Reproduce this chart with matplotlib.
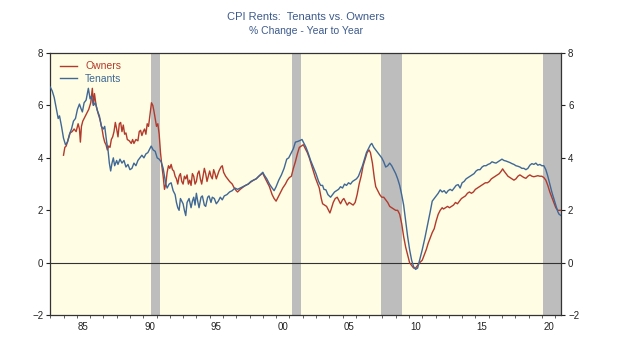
import matplotlib
matplotlib.use("Agg")
import matplotlib.pyplot as plt
from matplotlib.ticker import FixedLocator, FixedFormatter, MultipleLocator

plt.rcParams['font.family'] = ['Liberation Sans', 'DejaVu Sans']

title = "CPI Rents:  Tenants vs. Owners"
subtitle = "% Change - Year to Year"

tenants_x = [1983.0, 1983.15, 1983.3, 1983.45, 1983.6, 1983.7, 1983.85, 1984.0, 1984.15, 1984.3, 1984.45, 1984.6, 1984.75, 1984.9,
             1985.05, 1985.2, 1985.3, 1985.42, 1985.55, 1985.7, 1985.87, 1986.0, 1986.1, 1986.25, 1986.4, 1986.55, 1986.7, 1986.85,
             1987.0, 1987.1, 1987.25, 1987.35, 1987.45, 1987.55, 1987.65, 1987.75, 1987.85, 1988.0, 1988.1, 1988.25, 1988.4, 1988.55,
             1988.7, 1988.85, 1989.0, 1989.15, 1989.3, 1989.45, 1989.6, 1989.75, 1989.9, 1990.05, 1990.2, 1990.35, 1990.5, 1990.6,
             1990.75, 1990.9, 1991.05, 1991.2, 1991.35, 1991.5, 1991.6, 1991.7, 1991.8, 1991.95, 1992.1, 1992.25, 1992.4, 1992.5,
             1992.6, 1992.7, 1992.8, 1992.9, 1993.0, 1993.1, 1993.2, 1993.3, 1993.45, 1993.6, 1993.7, 1993.8, 1993.9, 1994.0,
             1994.1, 1994.2, 1994.35, 1994.45, 1994.6, 1994.7, 1994.85, 1994.95, 1995.1, 1995.2, 1995.35, 1995.5, 1995.65, 1995.8,
             1995.95, 1996.1, 1996.3, 1996.5, 1996.7, 1996.9, 1997.1, 1997.3, 1997.5, 1997.7, 1997.9, 1998.1, 1998.3, 1998.5,
             1998.7, 1998.9, 1999.0, 1999.1, 1999.3, 1999.5, 1999.7, 1999.85, 2000.0, 2000.2, 2000.4, 2000.6, 2000.8, 2000.95,
             2001.1, 2001.3, 2001.45, 2001.6, 2001.75, 2001.95, 2002.1, 2002.25, 2002.4, 2002.6, 2002.8, 2003.0, 2003.2, 2003.35,
             2003.5, 2003.6, 2003.75, 2003.9, 2004.1, 2004.25, 2004.4, 2004.55, 2004.7, 2004.85, 2005.0, 2005.15, 2005.3, 2005.45,
             2005.6, 2005.75, 2005.9, 2006.05, 2006.2, 2006.35, 2006.5, 2006.65, 2006.8, 2006.95, 2007.1, 2007.2, 2007.35, 2007.5,
             2007.65, 2007.8, 2007.95, 2008.1, 2008.25, 2008.4, 2008.55, 2008.7, 2008.85, 2009.0, 2009.15, 2009.3, 2009.45, 2009.6,
             2009.75, 2009.9, 2010.05, 2010.2, 2010.35, 2010.5, 2010.65, 2010.8, 2011.0, 2011.2, 2011.4, 2011.6, 2011.75, 2011.9,
             2012.05, 2012.2, 2012.35, 2012.5, 2012.65, 2012.8, 2012.95, 2013.1, 2013.25, 2013.4, 2013.55, 2013.7, 2013.85, 2014.0,
             2014.15, 2014.3, 2014.45, 2014.6, 2014.75, 2014.9, 2015.05, 2015.2, 2015.35, 2015.5, 2015.65, 2015.8, 2015.95, 2016.1,
             2016.25, 2016.4, 2016.55, 2016.7, 2016.85, 2017.0, 2017.15, 2017.3, 2017.45, 2017.6, 2017.75, 2017.9, 2018.05, 2018.2,
             2018.35, 2018.5, 2018.65, 2018.8, 2018.95, 2019.1, 2019.25, 2019.4, 2019.55, 2019.7, 2019.85, 2020.0, 2020.15, 2020.3,
             2020.45, 2020.6, 2020.75, 2020.9, 2021.05, 2021.2, 2021.3, 2021.45]
tenants_y = [6.7, 6.55, 6.3, 5.9, 5.5, 5.6, 5.2, 4.75, 4.5, 4.6, 4.9, 5.1, 5.4, 5.5,
             5.85, 6.05, 5.9, 5.75, 6.1, 6.2, 6.65, 6.25, 6.35, 6.0, 6.1, 5.8, 5.6, 5.2,
             5.1, 5.2, 4.6, 4.3, 3.8, 3.5, 3.8, 4.0, 3.7, 3.9, 3.75, 3.95, 3.8, 3.9,
             3.65, 3.75, 3.55, 3.6, 3.8, 3.7, 3.9, 4.0, 4.1, 4.0, 4.15, 4.2, 4.35, 4.45,
             4.3, 4.25, 4.0, 3.95, 3.85, 3.6, 3.3, 3.0, 2.85, 3.0, 3.05, 2.75, 2.6, 2.3,
             2.1, 2.0, 2.45, 2.35, 2.25, 2.0, 1.8, 2.3, 2.45, 2.1, 2.35, 2.5, 2.2, 2.65,
             2.35, 2.1, 2.5, 2.55, 2.2, 2.15, 2.5, 2.55, 2.3, 2.5, 2.45, 2.25, 2.35, 2.5,
             2.4, 2.55, 2.6, 2.7, 2.75, 2.85, 2.8, 2.85, 2.9, 2.95, 3.0, 3.1, 3.15, 3.2,
             3.3, 3.4, 3.45, 3.35, 3.2, 3.0, 2.85, 2.75, 2.9, 3.15, 3.35, 3.6, 3.95, 4.0,
             4.15, 4.35, 4.6, 4.62, 4.65, 4.7, 4.55, 4.4, 4.2, 3.9, 3.65, 3.4, 3.1, 2.95,
             2.95, 2.8, 2.78, 2.6, 2.5, 2.6, 2.7, 2.75, 2.8, 2.9, 2.85, 3.0, 2.95, 3.05,
             3.0, 3.1, 3.15, 3.2, 3.3, 3.5, 3.7, 3.95, 4.2, 4.35, 4.5, 4.55, 4.4, 4.3,
             4.2, 4.1, 4.0, 3.85, 3.65, 3.7, 3.8, 3.7, 3.55, 3.4, 3.2, 2.95, 2.6, 2.2,
             1.6, 1.0, 0.5, 0.1, -0.15, -0.25, -0.2, 0.1, 0.5, 0.95, 1.45, 1.95, 2.35, 2.45,
             2.55, 2.65, 2.78, 2.7, 2.75, 2.65, 2.75, 2.8, 2.75, 2.85, 2.95, 2.98, 2.85, 3.05,
             3.1, 3.2, 3.25, 3.3, 3.35, 3.4, 3.5, 3.55, 3.55, 3.65, 3.7, 3.7, 3.75, 3.78,
             3.85, 3.82, 3.8, 3.85, 3.9, 3.95, 3.9, 3.88, 3.85, 3.82, 3.78, 3.75, 3.7, 3.68,
             3.65, 3.6, 3.6, 3.55, 3.6, 3.72, 3.78, 3.75, 3.8, 3.72, 3.75, 3.7, 3.7, 3.55,
             3.3, 3.0, 2.7, 2.45, 2.2, 1.95, 1.85, 1.8]

owners_x = [1984.0, 1984.1, 1984.2, 1984.35, 1984.5, 1984.65, 1984.8, 1984.95, 1985.1, 1985.2, 1985.27, 1985.35, 1985.45, 1985.6,
            1985.75, 1985.9, 1986.05, 1986.17, 1986.25, 1986.33, 1986.45, 1986.6, 1986.75, 1986.9, 1987.0, 1987.1, 1987.2, 1987.3,
            1987.4, 1987.5, 1987.6, 1987.7, 1987.8, 1987.9, 1988.0, 1988.1, 1988.2, 1988.3, 1988.4, 1988.5, 1988.6, 1988.7,
            1988.8, 1988.95, 1989.1, 1989.2, 1989.3, 1989.45, 1989.6, 1989.7, 1989.8, 1989.9, 1990.0, 1990.1, 1990.2, 1990.3,
            1990.4, 1990.5, 1990.62, 1990.72, 1990.8, 1990.9, 1991.0, 1991.1, 1991.2, 1991.3, 1991.4, 1991.5, 1991.6, 1991.7,
            1991.8, 1991.9, 1992.0, 1992.1, 1992.2, 1992.3, 1992.4, 1992.5, 1992.6, 1992.7, 1992.8, 1992.9, 1993.0, 1993.1,
            1993.2, 1993.3, 1993.4, 1993.5, 1993.6, 1993.7, 1993.8, 1993.9, 1994.0, 1994.1, 1994.2, 1994.3, 1994.4, 1994.5,
            1994.6, 1994.7, 1994.8, 1994.9, 1995.0, 1995.1, 1995.2, 1995.3, 1995.4, 1995.5, 1995.6, 1995.7, 1995.85, 1995.95,
            1996.05, 1996.2, 1996.35, 1996.5, 1996.7, 1996.85, 1997.0, 1997.1, 1997.3, 1997.5, 1997.7, 1997.9, 1998.1, 1998.3,
            1998.5, 1998.7, 1998.9, 1999.0, 1999.1, 1999.3, 1999.5, 1999.7, 1999.85, 2000.0, 2000.15, 2000.3, 2000.5, 2000.7,
            2000.85, 2001.0, 2001.15, 2001.3, 2001.45, 2001.6, 2001.75, 2001.9, 2002.05, 2002.2, 2002.35, 2002.5, 2002.65, 2002.8,
            2002.95, 2003.1, 2003.25, 2003.4, 2003.5, 2003.65, 2003.8, 2003.95, 2004.05, 2004.15, 2004.3, 2004.45, 2004.6, 2004.75,
            2004.85, 2005.0, 2005.1, 2005.25, 2005.35, 2005.5, 2005.65, 2005.8, 2005.95, 2006.1, 2006.25, 2006.4, 2006.55, 2006.7,
            2006.85, 2007.0, 2007.1, 2007.25, 2007.4, 2007.5, 2007.65, 2007.8, 2007.95, 2008.1, 2008.25, 2008.4, 2008.55, 2008.7,
            2008.85, 2009.0, 2009.15, 2009.3, 2009.45, 2009.6, 2009.75, 2009.9, 2010.05, 2010.2, 2010.35, 2010.5, 2010.65, 2010.8,
            2011.0, 2011.15, 2011.3, 2011.45, 2011.6, 2011.75, 2011.9, 2012.05, 2012.2, 2012.35, 2012.5, 2012.6, 2012.75, 2012.9,
            2013.05, 2013.2, 2013.35, 2013.5, 2013.65, 2013.8, 2013.95, 2014.1, 2014.25, 2014.4, 2014.55, 2014.7, 2014.85, 2015.0,
            2015.15, 2015.3, 2015.45, 2015.6, 2015.75, 2015.9, 2016.05, 2016.2, 2016.35, 2016.5, 2016.65, 2016.8, 2016.95, 2017.05,
            2017.15, 2017.3, 2017.45, 2017.6, 2017.75, 2017.9, 2018.05, 2018.2, 2018.35, 2018.5, 2018.65, 2018.8, 2018.95, 2019.1,
            2019.25, 2019.4, 2019.55, 2019.7, 2019.85, 2020.0, 2020.15, 2020.3, 2020.45, 2020.6, 2020.75, 2020.9, 2021.05, 2021.2,
            2021.35, 2021.45]
owners_y = [4.1, 4.4, 4.45, 4.7, 4.95, 5.0, 5.1, 5.0, 5.3, 5.1, 4.6, 5.2, 5.4, 5.55,
            5.7, 5.85, 6.1, 6.65, 6.0, 6.45, 6.0, 5.7, 5.45, 5.1, 4.8, 4.6, 4.5, 4.3,
            4.45, 4.4, 4.7, 4.8, 5.0, 5.35, 5.1, 4.8, 5.3, 5.35, 5.0, 5.25, 4.9, 4.95,
            4.7, 4.65, 4.55, 4.7, 4.55, 4.7, 4.65, 5.0, 5.05, 4.85, 5.0, 5.1, 4.9, 5.3,
            5.2, 5.6, 6.1, 6.0, 5.8, 5.5, 5.2, 5.3, 4.9, 4.2, 3.7, 3.3, 2.8, 3.0,
            3.45, 3.7, 3.6, 3.75, 3.55, 3.5, 3.3, 3.2, 3.0, 3.3, 3.4, 3.1, 3.0, 3.3,
            3.2, 3.35, 3.0, 3.15, 2.95, 3.4, 3.3, 3.0, 3.1, 3.4, 3.5, 3.2, 3.0, 3.3,
            3.6, 3.4, 3.1, 3.3, 3.5, 3.3, 3.2, 3.55, 3.4, 3.2, 3.35, 3.5, 3.65, 3.7,
            3.45, 3.3, 3.2, 3.1, 3.0, 2.85, 2.75, 2.7, 2.8, 2.88, 2.95, 3.0, 3.08, 3.15,
            3.2, 3.3, 3.38, 3.42, 3.3, 3.1, 2.9, 2.6, 2.45, 2.35, 2.5, 2.65, 2.85, 3.0,
            3.15, 3.25, 3.3, 3.6, 3.85, 4.15, 4.4, 4.45, 4.5, 4.35, 4.2, 4.0, 3.75, 3.5,
            3.25, 3.05, 2.85, 2.45, 2.25, 2.2, 2.15, 2.0, 1.9, 2.05, 2.3, 2.45, 2.5, 2.35,
            2.25, 2.4, 2.45, 2.3, 2.2, 2.3, 2.25, 2.2, 2.3, 2.6, 3.0, 3.3, 3.7, 3.95,
            4.2, 4.3, 4.2, 3.8, 3.2, 2.9, 2.75, 2.6, 2.5, 2.5, 2.4, 2.3, 2.15, 2.1,
            2.05, 2.0, 2.0, 1.85, 1.5, 1.0, 0.6, 0.3, 0.0, -0.1, -0.2, -0.2, -0.1, 0.0,
            0.1, 0.3, 0.5, 0.75, 0.95, 1.15, 1.3, 1.6, 1.85, 2.0, 2.1, 2.05, 2.1, 2.15,
            2.1, 2.15, 2.2, 2.3, 2.25, 2.35, 2.45, 2.5, 2.55, 2.65, 2.7, 2.65, 2.7, 2.8,
            2.85, 2.9, 2.95, 3.0, 3.05, 3.05, 3.1, 3.2, 3.25, 3.3, 3.35, 3.4, 3.5, 3.58,
            3.5, 3.4, 3.3, 3.25, 3.2, 3.15, 3.2, 3.3, 3.35, 3.3, 3.25, 3.22, 3.3, 3.35,
            3.3, 3.28, 3.3, 3.32, 3.3, 3.3, 3.25, 3.15, 2.95, 2.7, 2.5, 2.3, 2.1, 2.0,
            2.0, 2.0]

recession_starts = [1990.58, 2001.17, 2007.92, 2020.1]
recession_ends = [1991.25, 2001.84, 2009.5, 2021.5]

year_labels = ["85", "90", "95", "00", "05", "10", "15", "20"]
label_years = [1985, 1990, 1995, 2000, 2005, 2010, 2015, 2020]
y_ticks = [-2, 0, 2, 4, 6, 8]

owners_color = "#b23a2c"
tenants_color = "#3f6896"

fig = plt.figure(figsize=(6.2, 3.48), dpi=100)
ax = fig.add_axes([0.081, 0.094, 0.824, 0.754])
ax.set_facecolor("#fffde3")

for s, e in zip(recession_starts, recession_ends):
    ax.axvspan(s, e, color="#bdbdbd", lw=0, zorder=1)

ax.axhline(0, color="#333333", lw=0.8, zorder=2)
ax.plot(owners_x, owners_y, color=owners_color, lw=1.0, zorder=3, label="Owners")
ax.plot(tenants_x, tenants_y, color=tenants_color, lw=1.0, zorder=3, label="Tenants")

ax.set_xlim(1983.0, 2021.45)
ax.set_ylim(-2, 8)

ax.yaxis.set_major_locator(FixedLocator(y_ticks))
ax.tick_params(axis='y', which='major', direction='out', length=3, width=0.8,
               labelsize=7, left=True, right=True, labelleft=True, labelright=True, pad=2, colors="#222222")

ax.xaxis.set_major_locator(FixedLocator([y + 0.5 for y in label_years]))
ax.xaxis.set_major_formatter(FixedFormatter(year_labels))
ax.xaxis.set_minor_locator(MultipleLocator(1))
ax.tick_params(axis='x', which='major', length=0, labelsize=7, pad=5, colors="#222222")
ax.tick_params(axis='x', which='minor', direction='out', length=2.5, width=0.6, color="#444444")

for sp in ax.spines.values():
    sp.set_linewidth(0.9)
    sp.set_color("#333333")

leg = ax.legend(loc="upper left", frameon=False, fontsize=7.5, handlelength=1.6,
                handletextpad=0.8, labelspacing=0.2, borderaxespad=0.3, bbox_to_anchor=(0.005, 0.995))
for txt, c in zip(leg.get_texts(), [owners_color, tenants_color]):
    txt.set_color(c)

fig.text(0.493, 0.95, title, ha="center", va="center", fontsize=8, color="#3d5a8c")
fig.text(0.493, 0.91, subtitle, ha="center", va="center", fontsize=7.5, color="#3d5a8c")

fig.savefig("out.png", dpi=100, facecolor="white")
